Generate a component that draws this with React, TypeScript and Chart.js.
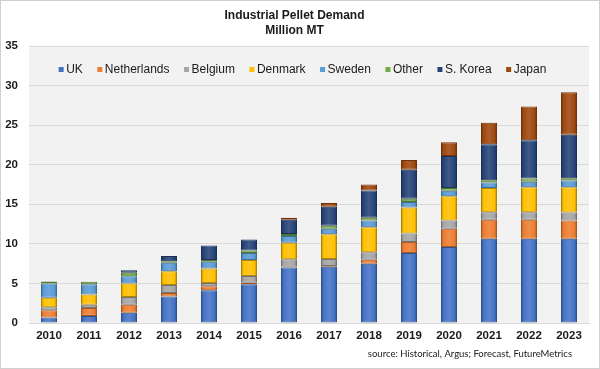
import React, { useEffect, useRef } from 'react';
import { Chart, registerables } from 'chart.js';

Chart.register(...registerables);

const years = ['2010', '2011', '2012', '2013', '2014', '2015', '2016', '2017', '2018', '2019', '2020', '2021', '2022', '2023'];
const uk = [0.7, 0.9, 1.3, 3.35, 4.15, 4.9, 7.0, 7.1, 7.5, 8.85, 9.6, 10.65, 10.65, 10.65];
const netherlands = [0.9, 1.0, 1.0, 0.45, 0.5, 0.2, 0.1, 0.1, 0.5, 1.4, 2.3, 2.4, 2.4, 2.3];
const belgium = [0.4, 0.4, 1.0, 1.0, 0.4, 0.85, 0.95, 0.9, 0.95, 1.05, 1.05, 0.95, 0.95, 1.0];
const denmark = [1.2, 1.3, 1.7, 1.75, 1.85, 2.0, 2.1, 3.1, 3.15, 3.3, 3.05, 3.05, 3.15, 3.2];
const sweden = [1.8, 1.3, 0.9, 1.05, 0.85, 0.9, 0.85, 0.7, 0.85, 0.7, 0.7, 0.7, 0.7, 0.85];
const other = [0.25, 0.3, 0.45, 0.2, 0.2, 0.3, 0.25, 0.4, 0.35, 0.4, 0.35, 0.3, 0.4, 0.3];
const sKorea = [0, 0, 0.3, 0.65, 1.85, 1.4, 1.8, 2.4, 3.45, 3.65, 4.05, 4.55, 4.85, 5.5];
const japan = [0, 0, 0, 0, 0, 0, 0.25, 0.45, 0.75, 1.25, 1.75, 2.7, 4.25, 5.35];

const seriesNames = ['UK', 'Netherlands', 'Belgium', 'Denmark', 'Sweden', 'Other', 'S. Korea', 'Japan'];
const seriesValues = [uk, netherlands, belgium, denmark, sweden, other, sKorea, japan];
const seriesColors = ['#4472C4', '#ED7D31', '#A5A5A5', '#FFC000', '#5B9BD5', '#70AD47', '#264478', '#9E480E'];

const titleLines = ['Industrial Pellet Demand', 'Million MT'];
const sourceText = 'source: Historical, Argus; Forecast, FutureMetrics';
const yMin = 0;
const yMax = 35;
const yStep = 5;

const FONT = '"Liberation Sans", Arial, sans-serif';

function shade(hex: string, f: number): string {
  const n = parseInt(hex.slice(1), 16);
  let r = (n >> 16) & 255, g = (n >> 8) & 255, b = n & 255;
  if (f < 0) {
    r = Math.round(r * (1 + f)); g = Math.round(g * (1 + f)); b = Math.round(b * (1 + f));
  } else {
    r = Math.round(r + (255 - r) * f); g = Math.round(g + (255 - g) * f); b = Math.round(b + (255 - b) * f);
  }
  return `rgb(${r},${g},${b})`;
}

const bgPlugin = {
  id: 'bgPlugin',
  beforeDraw(chart: any) {
    const { ctx, chartArea, width, height } = chart;
    ctx.save();
    ctx.fillStyle = '#ffffff';
    ctx.fillRect(0, 0, width, height);
    ctx.fillStyle = '#f2f2f2';
    ctx.fillRect(chartArea.left, chartArea.top, chartArea.right - chartArea.left, chartArea.bottom - chartArea.top);
    ctx.restore();
  },
  afterDraw(chart: any) {
    const { ctx, width, height } = chart;
    ctx.save();
    // legend inside plot area
    ctx.font = `12px ${FONT}`;
    ctx.textBaseline = 'middle';
    const box = 5, gap = 2.5, spacing = 14.5;
    const widths = seriesNames.map((n) => box + gap + ctx.measureText(n).width);
    const total = widths.reduce((a, b) => a + b, 0) + spacing * (seriesNames.length - 1);
    let x = 302.5 - total / 2;
    const y = 69.5;
    seriesNames.forEach((n, i) => {
      ctx.fillStyle = seriesColors[i];
      ctx.fillRect(x, y - 2.5, box, box);
      ctx.fillStyle = '#1a1a1a';
      ctx.textAlign = 'left';
      ctx.fillText(n, x + box + gap, y + 0.5);
      x += widths[i] + spacing;
    });
    // source
    ctx.font = `9.5px Lato, "Open Sans", sans-serif`;
    ctx.fillStyle = '#1a1a1a';
    ctx.textAlign = 'right';
    ctx.fillText(sourceText, 572, 354);
    // outer border
    ctx.strokeStyle = '#d0d0d0';
    ctx.lineWidth = 1;
    ctx.strokeRect(0.5, 0.5, width - 1, height - 1);
    ctx.restore();
  },
};

function barFill(color: string) {
  return (c: any) => {
    const chart = c.chart;
    if (!chart.chartArea || c.type !== 'data') return color;
    const xs = chart.scales.x;
    const cx = xs.getPixelForValue(c.dataIndex);
    const half = 8;
    const g = chart.ctx.createLinearGradient(cx - half, 0, cx + half, 0);
    g.addColorStop(0, shade(color, -0.35));
    g.addColorStop(0.15, color);
    g.addColorStop(0.5, shade(color, 0.12));
    g.addColorStop(0.85, color);
    g.addColorStop(1, shade(color, -0.35));
    return g;
  };
}

export default function App() {
  const ref = useRef<HTMLCanvasElement | null>(null);
  useEffect(() => {
    document.body.style.margin = '0';
    if (!ref.current) return;
    const chart = new Chart(ref.current, {
      type: 'bar',
      data: {
        labels: years,
        datasets: seriesNames.map((name, i) => ({
          label: name,
          data: seriesValues[i],
          backgroundColor: barFill(seriesColors[i]),
          borderColor: shade(seriesColors[i], -0.3),
          borderWidth: 1,
          borderSkipped: false,
          barPercentage: 0.4,
          categoryPercentage: 1.0,
        })),
      },
      options: {
        animation: false,
        responsive: false,
        layout: { padding: { left: 0, right: 11, top: 0, bottom: 26 } },
        plugins: {
          legend: { display: false },
          tooltip: { enabled: false },
          title: {
            display: true,
            text: titleLines,
            color: '#1a1a1a',
            font: { family: FONT, size: 12, weight: 'bold', lineHeight: 1.25 },
            padding: { top: 8, bottom: 8 },
          },
        },
        scales: {
          x: {
            stacked: true,
            grid: { display: false, drawTicks: false },
            border: { display: true, color: '#d9d9d9' },
            ticks: { color: '#1a1a1a', font: { family: FONT, size: 11.5, weight: 'bold' }, padding: 6 },
            afterFit: (s: any) => { s.height = 20; },
          },
          y: {
            stacked: true,
            min: yMin,
            max: yMax,
            grid: { color: '#d9d9d9', drawTicks: false },
            border: { display: false },
            ticks: { stepSize: yStep, color: '#1a1a1a', font: { family: FONT, size: 11.5, weight: 'bold' }, padding: 11 },
            afterFit: (s: any) => { s.width = 29; },
          },
        },
      },
      plugins: [bgPlugin],
    });
    return () => chart.destroy();
  }, []);
  return <canvas ref={ref} width={600} height={369} style={{ display: 'block', width: 600, height: 369 }} />;
}
